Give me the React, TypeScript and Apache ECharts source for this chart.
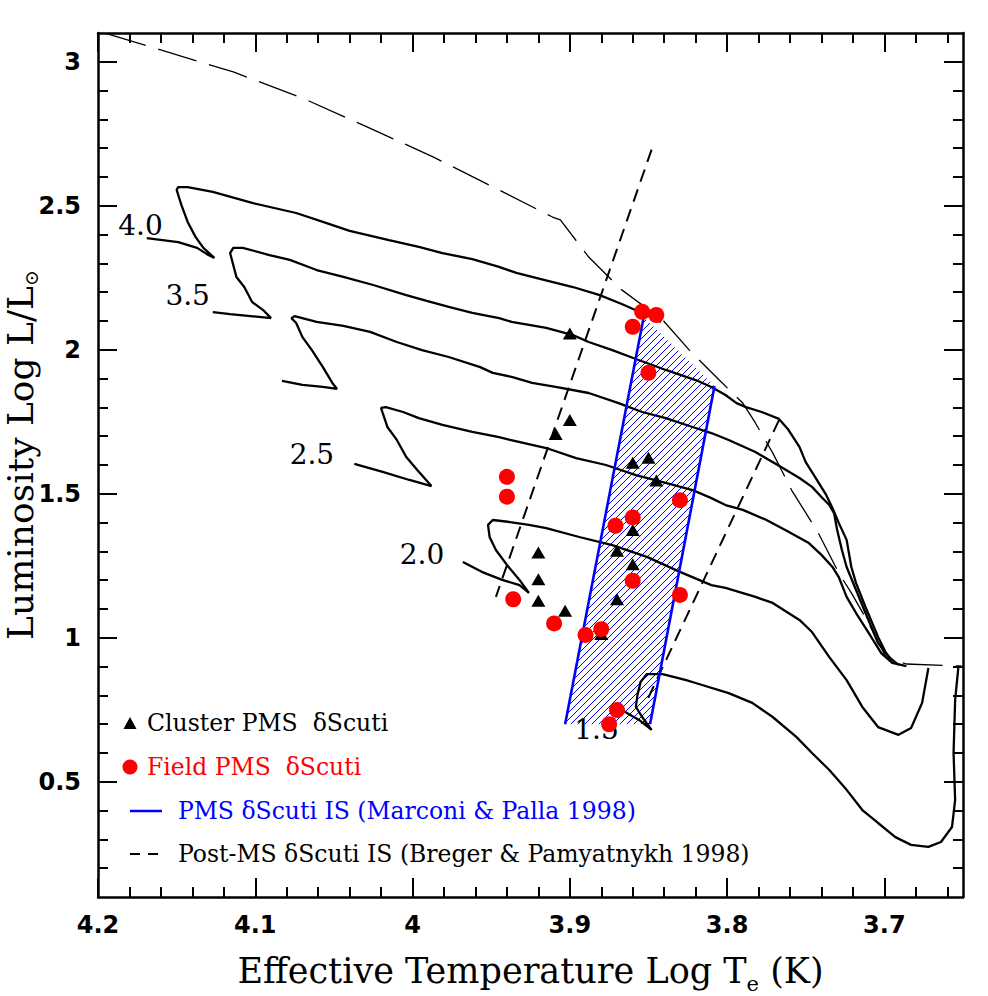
import React, { useEffect, useRef } from 'react';
import * as echarts from 'echarts';

// ---------- axes ----------
const X_MIN = 3.65;
const X_MAX = 4.2;
const Y_MIN = 0.1;
const Y_MAX = 3.1;
const xMajorTicks = [3.7, 3.8, 3.9, 4.0, 4.1, 4.2];
const xMinorTicks = [3.66, 3.68, 3.72, 3.74, 3.76, 3.78, 3.82, 3.84, 3.86, 3.88, 3.92, 3.94, 3.96, 3.98, 4.02, 4.04, 4.06, 4.08, 4.12, 4.14, 4.16, 4.18];
const yMajorTicks = [0.5, 1, 1.5, 2, 2.5, 3];
const yMinorTicks = [0.2, 0.3, 0.4, 0.6, 0.7, 0.8, 0.9, 1.1, 1.2, 1.3, 1.4, 1.6, 1.7, 1.8, 1.9, 2.1, 2.2, 2.3, 2.4, 2.6, 2.7, 2.8, 2.9];

// ---------- evolutionary tracks [log Te, log L] ----------
const track40 = [[4.169, 2.388], [4.149, 2.374], [4.137, 2.354], [4.131, 2.333], [4.126, 2.319], [4.133, 2.354], [4.138, 2.392], [4.143, 2.444], [4.147, 2.503], [4.150, 2.555], [4.149, 2.565], [4.143, 2.565], [4.127, 2.548], [4.102, 2.510], [4.074, 2.475], [4.057, 2.444], [4.040, 2.413], [4.015, 2.381], [3.996, 2.357], [3.981, 2.336], [3.962, 2.315], [3.945, 2.288], [3.934, 2.267], [3.919, 2.246], [3.898, 2.218], [3.881, 2.190], [3.867, 2.159], [3.854, 2.128], [3.842, 2.097]];
const track35 = [[4.127, 2.131], [4.116, 2.124], [4.103, 2.117], [4.090, 2.110], [4.095, 2.138], [4.102, 2.166], [4.107, 2.218], [4.112, 2.253], [4.116, 2.336], [4.114, 2.354], [4.108, 2.354], [4.091, 2.329], [4.078, 2.312], [4.061, 2.277], [4.044, 2.253], [4.025, 2.225], [4.004, 2.190], [3.991, 2.170], [3.977, 2.149], [3.962, 2.128], [3.945, 2.110], [3.937, 2.097], [3.915, 2.076], [3.898, 2.051], [3.888, 2.027], [3.873, 1.999], [3.858, 1.968], [3.839, 1.930], [3.820, 1.895], [3.810, 1.871], [3.801, 1.843], [3.794, 1.815], [3.788, 1.801], [3.778, 1.784], [3.767, 1.760], [3.761, 1.722], [3.754, 1.663], [3.750, 1.610], [3.744, 1.558], [3.737, 1.496], [3.733, 1.451], [3.729, 1.399], [3.724, 1.340], [3.721, 1.246], [3.718, 1.190], [3.712, 1.107], [3.704, 1.003], [3.699, 0.947], [3.695, 0.920]];
const track30 = [[4.083, 1.892], [4.070, 1.878], [4.057, 1.871], [4.048, 1.864], [4.051, 1.885], [4.057, 1.940], [4.064, 1.999], [4.070, 2.044], [4.074, 2.093], [4.077, 2.110], [4.075, 2.117], [4.061, 2.097], [4.044, 2.083], [4.027, 2.062], [4.010, 2.027], [3.994, 1.999], [3.977, 1.975], [3.957, 1.940], [3.949, 1.920], [3.937, 1.906], [3.924, 1.885], [3.909, 1.871], [3.888, 1.850], [3.869, 1.815], [3.854, 1.784], [3.839, 1.763], [3.822, 1.732], [3.810, 1.711], [3.799, 1.687], [3.782, 1.645], [3.767, 1.597], [3.754, 1.555], [3.746, 1.524], [3.740, 1.489], [3.735, 1.461], [3.732, 1.433], [3.730, 1.374], [3.727, 1.305], [3.724, 1.246], [3.718, 1.166], [3.712, 1.086], [3.704, 0.982], [3.697, 0.933], [3.691, 0.906]];
const track25 = [[4.037, 1.604], [4.019, 1.576], [4.002, 1.548], [3.988, 1.527], [3.997, 1.583], [4.004, 1.628], [4.010, 1.687], [4.016, 1.732], [4.019, 1.781], [4.020, 1.798], [4.017, 1.801], [4.006, 1.784], [3.996, 1.763], [3.981, 1.739], [3.962, 1.715], [3.945, 1.697], [3.938, 1.687], [3.915, 1.659], [3.896, 1.624], [3.877, 1.600], [3.858, 1.565], [3.839, 1.538], [3.822, 1.513], [3.810, 1.485], [3.801, 1.461], [3.790, 1.444], [3.775, 1.409], [3.763, 1.374], [3.748, 1.329], [3.740, 1.288], [3.733, 1.246], [3.729, 1.211], [3.724, 1.142], [3.718, 1.086], [3.710, 1.017], [3.702, 0.947], [3.695, 0.913], [3.686, 0.902]];
const track20 = [[3.968, 1.263], [3.956, 1.229], [3.943, 1.201], [3.932, 1.183], [3.926, 1.156], [3.932, 1.201], [3.940, 1.253], [3.947, 1.305], [3.951, 1.350], [3.952, 1.392], [3.949, 1.409], [3.938, 1.402], [3.926, 1.392], [3.915, 1.381], [3.894, 1.350], [3.873, 1.322], [3.851, 1.281], [3.830, 1.229], [3.810, 1.183], [3.801, 1.173], [3.782, 1.142], [3.771, 1.121], [3.754, 1.062], [3.746, 1.020], [3.735, 0.933], [3.724, 0.853], [3.714, 0.760], [3.704, 0.690], [3.691, 0.663], [3.683, 0.687], [3.676, 0.774], [3.672, 0.895]];
const track15 = [[3.867, 0.749], [3.856, 0.715], [3.848, 0.680], [3.854, 0.725], [3.858, 0.760], [3.857, 0.801], [3.855, 0.847], [3.851, 0.874], [3.841, 0.874], [3.826, 0.853], [3.820, 0.843], [3.799, 0.808], [3.784, 0.774], [3.771, 0.725], [3.756, 0.656], [3.746, 0.600], [3.735, 0.541], [3.724, 0.472], [3.714, 0.402], [3.704, 0.357], [3.693, 0.308], [3.683, 0.281], [3.672, 0.274], [3.664, 0.291], [3.657, 0.343], [3.655, 0.437], [3.656, 0.600], [3.655, 0.784], [3.653, 0.895]];

// birthline (thin long dashes)
const birthline = [[4.194, 3.097], [4.114, 2.965], [4.070, 2.874], [4.029, 2.774], [3.987, 2.670], [3.945, 2.555], [3.911, 2.461], [3.906, 2.451], [3.888, 2.322], [3.867, 2.208], [3.841, 2.104], [3.824, 1.999], [3.805, 1.895], [3.790, 1.815], [3.782, 1.746], [3.771, 1.642], [3.759, 1.513], [3.742, 1.364], [3.729, 1.225], [3.721, 1.156], [3.710, 1.051], [3.699, 0.933], [3.686, 0.909], [3.651, 0.902]];

// track mass labels
const massLabels = ['4.0', '3.5', '2.5', '2.0', '1.5'];
const massLabelTeff = [4.173, 4.143, 4.064, 3.994, 3.883];
const massLabelLum = [2.433, 2.187, 1.638, 1.288, 0.680];

// Post-MS instability strip (Breger & Pamyatnykh 1998)
const postMSBlueEdge = [[3.848, 2.695], [3.947, 1.142]];
const postMSRedEdge = [[3.767, 1.756], [3.852, 0.770]];

// PMS instability strip (Marconi & Palla 1998)
const pmsBlueEdge = [[3.903, 0.700], [3.853, 2.114]];
const pmsRedEdge = [[3.849, 0.700], [3.808, 1.874]];
const pmsStrip = [[3.903, 0.700], [3.853, 2.114], [3.808, 1.874], [3.849, 0.700]];

// Cluster PMS delta Scuti stars
const clusterTeff = [3.900, 3.900, 3.909, 3.860, 3.850, 3.845, 3.860, 3.870, 3.860, 3.870, 3.920, 3.920, 3.920, 3.903, 3.880];
const clusterLum = [2.057, 1.756, 1.708, 1.608, 1.625, 1.546, 1.374, 1.302, 1.255, 1.134, 1.296, 1.203, 1.129, 1.094, 1.013];

// Field PMS delta Scuti stars
const fieldTeff = [3.854, 3.845, 3.860, 3.850, 3.940, 3.940, 3.830, 3.871, 3.860, 3.860, 3.830, 3.936, 3.910, 3.890, 3.880, 3.870, 3.875];
const fieldLum = [2.132, 2.121, 2.080, 1.920, 1.559, 1.490, 1.478, 1.389, 1.418, 1.198, 1.149, 1.134, 1.050, 1.010, 1.030, 0.749, 0.700];

const legendTexts = [
  'Cluster PMS  δScuti',
  'Field PMS  δScuti',
  'PMS δScuti IS (Marconi & Palla 1998)',
  'Post-MS δScuti IS (Breger & Pamyatnykh 1998)',
];

const BLACK = '#000000';
const RED = '#ff0000';
const BLUE = '#0000ff';
const SERIF = '"DejaVu Serif", "Liberation Serif", serif';
const SANS = '"DejaVu Sans", "Liberation Sans", sans-serif';

const pairs = (t: number[], l: number[]) => t.map((v, i) => [v, l[i]]);

export default function App() {
  const ref = useRef<HTMLDivElement>(null);

  useEffect(() => {
    if (!ref.current) return;
    const chart = echarts.init(ref.current, null, { renderer: 'svg' });

    const gridBox = { left: 98, right: 25, top: 33, bottom: 99, containLabel: false, outerBoundsMode: 'none' };

    const xBase = { type: 'value', min: X_MIN, max: X_MAX, inverse: true, splitLine: { show: false } };
    const yBase = { type: 'value', min: Y_MIN, max: Y_MAX, splitLine: { show: false } };
    const frameLine = { show: true, onZero: false, lineStyle: { color: BLACK, width: 2.5 } };
    const majorTick = (vals: number[]) => ({ show: true, inside: true, length: 19, customValues: vals, lineStyle: { color: BLACK, width: 2 } });
    const minorTick = (vals: number[]) => ({ show: true, inside: true, length: 10, customValues: vals, lineStyle: { color: BLACK, width: 2 } });
    const tickLabel = (vals: number[], margin: number) => ({
      show: true, customValues: vals, margin, color: BLACK, fontSize: 24, fontWeight: 'bold', fontFamily: SANS,
      formatter: (v: number) => String(Math.round(v * 100) / 100),
    });

    const trackSeries = (name: string, data: number[][]) => ({
      type: 'line', name, data, xAxisIndex: 0, yAxisIndex: 0,
      symbol: 'none', showSymbol: false, silent: true, z: 3,
      lineStyle: { color: BLACK, width: 2.3, opacity: 1 }, itemStyle: { color: BLACK },
    });

    const hatchRender = (params: any, api: any) => {
      if (params.dataIndex !== 0) return null;
      const pts = pmsStrip.map((p) => api.coord(p));
      const sums = pts.map((p: number[]) => p[0] + p[1]);
      const cMin = Math.min(...sums);
      const cMax = Math.max(...sums);
      const step = 7;
      const children: any[] = [];
      for (let c = Math.ceil(cMin / step) * step; c <= cMax; c += step) {
        const hits: number[][] = [];
        for (let i = 0; i < pts.length; i++) {
          const a = pts[i];
          const b = pts[(i + 1) % pts.length];
          const sa = a[0] + a[1] - c;
          const sb = b[0] + b[1] - c;
          if (sa === sb) continue;
          if ((sa <= 0 && sb >= 0) || (sa >= 0 && sb <= 0)) {
            const t = sa / (sa - sb);
            hits.push([a[0] + t * (b[0] - a[0]), a[1] + t * (b[1] - a[1])]);
          }
        }
        if (hits.length >= 2) {
          hits.sort((p, q) => p[0] - q[0]);
          const p1 = hits[0];
          const p2 = hits[hits.length - 1];
          children.push({
            type: 'line',
            shape: { x1: p1[0], y1: p1[1], x2: p2[0], y2: p2[1] },
            style: { stroke: BLUE, fill: null, lineWidth: 1, opacity: 1 },
          });
        }
      }
      return { type: 'group', children };
    };

    const titleRich = (size: number, subSize: number, lineHeight: number) => ({
      fontFamily: SERIF, fontSize: size, color: BLACK,
      rich: {
        m: { fontFamily: SERIF, fontSize: size, color: BLACK, lineHeight },
        s: { fontFamily: SERIF, fontSize: subSize, color: BLACK, lineHeight: subSize, verticalAlign: 'bottom' },
      },
    });

    const option: any = {
      animation: false,
      backgroundColor: '#ffffff',
      grid: [gridBox, gridBox],
      xAxis: [
        {
          ...xBase, gridIndex: 0, position: 'bottom', axisLine: frameLine, axisTick: majorTick(xMajorTicks),
          axisLabel: tickLabel(xMajorTicks, 16),
          name: '{m|Effective Temperature Log T}{s|e}{m| (K)}',
          nameLocation: 'middle', nameGap: 50, nameMoveOverlap: false,
          nameTextStyle: titleRich(35, 21, 47),
        },
        { ...xBase, gridIndex: 0, position: 'top', axisLine: frameLine, axisTick: majorTick(xMajorTicks), axisLabel: { show: false } },
        { ...xBase, gridIndex: 1, position: 'bottom', axisLine: { show: false }, axisTick: minorTick(xMinorTicks), axisLabel: { show: false } },
        { ...xBase, gridIndex: 1, position: 'top', axisLine: { show: false }, axisTick: minorTick(xMinorTicks), axisLabel: { show: false } },
      ],
      yAxis: [
        {
          ...yBase, gridIndex: 0, position: 'left', axisLine: frameLine, axisTick: majorTick(yMajorTicks),
          axisLabel: tickLabel(yMajorTicks, 17),
          name: '{m|Luminosity Log L/L}{s|⊙}',
          nameLocation: 'middle', nameGap: 58, nameMoveOverlap: false,
          nameTextStyle: { ...titleRich(36, 19, 40), padding: [0, 0, 0, 20] },
        },
        { ...yBase, gridIndex: 0, position: 'right', axisLine: frameLine, axisTick: majorTick(yMajorTicks), axisLabel: { show: false } },
        { ...yBase, gridIndex: 1, position: 'left', axisLine: { show: false }, axisTick: minorTick(yMinorTicks), axisLabel: { show: false } },
        { ...yBase, gridIndex: 1, position: 'right', axisLine: { show: false }, axisTick: minorTick(yMinorTicks), axisLabel: { show: false } },
      ],
      series: [
        {
          type: 'scatter', name: 'Track masses', xAxisIndex: 0, yAxisIndex: 0, silent: true, z: 1,
          symbolSize: 0, itemStyle: { opacity: 1, color: BLACK },
          data: massLabels.map((n, i) => ({ name: n, value: [massLabelTeff[i], massLabelLum[i]] })),
          label: { show: true, position: 'inside', formatter: '{b}', color: BLACK, opacity: 1, fontFamily: SERIF, fontSize: 28 },
        },
        {
          type: 'custom', name: 'PMS IS hatch', xAxisIndex: 0, yAxisIndex: 0, silent: true, z: 2,
          itemStyle: { color: BLUE, opacity: 1 },
          data: pmsStrip, encode: { x: 0, y: 1 }, renderItem: hatchRender,
        },
        trackSeries('4.0', track40),
        trackSeries('3.5', track35),
        trackSeries('3.0', track30),
        trackSeries('2.5', track25),
        trackSeries('2.0', track20),
        trackSeries('1.5', track15),
        {
          type: 'line', name: 'Birthline', data: birthline, xAxisIndex: 0, yAxisIndex: 0,
          symbol: 'none', silent: true, z: 4,
          lineStyle: { color: BLACK, width: 1.3, type: [40, 13] },
        },
        {
          type: 'line', name: legendTexts[3] + ' blue', data: postMSBlueEdge, xAxisIndex: 0, yAxisIndex: 0,
          symbol: 'none', silent: true, z: 4,
          lineStyle: { color: BLACK, width: 2, type: [13, 8] },
        },
        {
          type: 'line', name: legendTexts[3] + ' red', data: postMSRedEdge, xAxisIndex: 0, yAxisIndex: 0,
          symbol: 'none', silent: true, z: 4,
          lineStyle: { color: BLACK, width: 2, type: [13, 8] },
        },
        {
          type: 'line', name: legendTexts[2] + ' blue', data: pmsBlueEdge, xAxisIndex: 0, yAxisIndex: 0,
          symbol: 'none', silent: true, z: 5,
          lineStyle: { color: BLUE, width: 2.6 },
        },
        {
          type: 'line', name: legendTexts[2] + ' red', data: pmsRedEdge, xAxisIndex: 0, yAxisIndex: 0,
          symbol: 'none', silent: true, z: 5,
          lineStyle: { color: BLUE, width: 2.6 },
        },
        {
          type: 'scatter', name: legendTexts[0], data: pairs(clusterTeff, clusterLum), xAxisIndex: 0, yAxisIndex: 0,
          symbol: 'triangle', symbolSize: [14, 12], silent: true, z: 6,
          itemStyle: { color: BLACK, opacity: 1 },
        },
        {
          type: 'scatter', name: legendTexts[1], data: pairs(fieldTeff, fieldLum), xAxisIndex: 0, yAxisIndex: 0,
          symbol: 'circle', symbolSize: 16, silent: true, z: 7,
          itemStyle: { color: RED, opacity: 1 },
        },
      ],
      graphic: [
        { type: 'polygon', shape: { points: [[123.5, 729], [136.5, 729], [130, 717]] }, style: { fill: BLACK } },
        { type: 'text', x: 147, y: 723, style: { text: legendTexts[0], fill: BLACK, fontSize: 23.5, fontFamily: SERIF, verticalAlign: 'middle', align: 'left' } },
        { type: 'circle', shape: { cx: 130, cy: 767, r: 7.5 }, style: { fill: RED } },
        { type: 'text', x: 147, y: 767, style: { text: legendTexts[1], fill: RED, fontSize: 23.5, fontFamily: SERIF, verticalAlign: 'middle', align: 'left' } },
        { type: 'line', shape: { x1: 130, y1: 811, x2: 162, y2: 811 }, style: { stroke: BLUE, lineWidth: 2.5 } },
        { type: 'text', x: 178, y: 811, style: { text: legendTexts[2], fill: BLUE, fontSize: 23.5, fontFamily: SERIF, verticalAlign: 'middle', align: 'left' } },
        { type: 'line', shape: { x1: 130, y1: 854, x2: 162, y2: 854 }, style: { stroke: BLACK, lineWidth: 2, lineDash: [10, 8] } },
        { type: 'text', x: 178, y: 854, style: { text: legendTexts[3], fill: BLACK, fontSize: 23.5, fontFamily: SERIF, verticalAlign: 'middle', align: 'left' } },
      ],
    };

    chart.setOption(option);
    return () => chart.dispose();
  }, []);

  return (
    <div
      ref={ref}
      style={{ position: 'fixed', left: 0, top: 0, width: 988, height: 996, background: '#fff' }}
    />
  );
}
